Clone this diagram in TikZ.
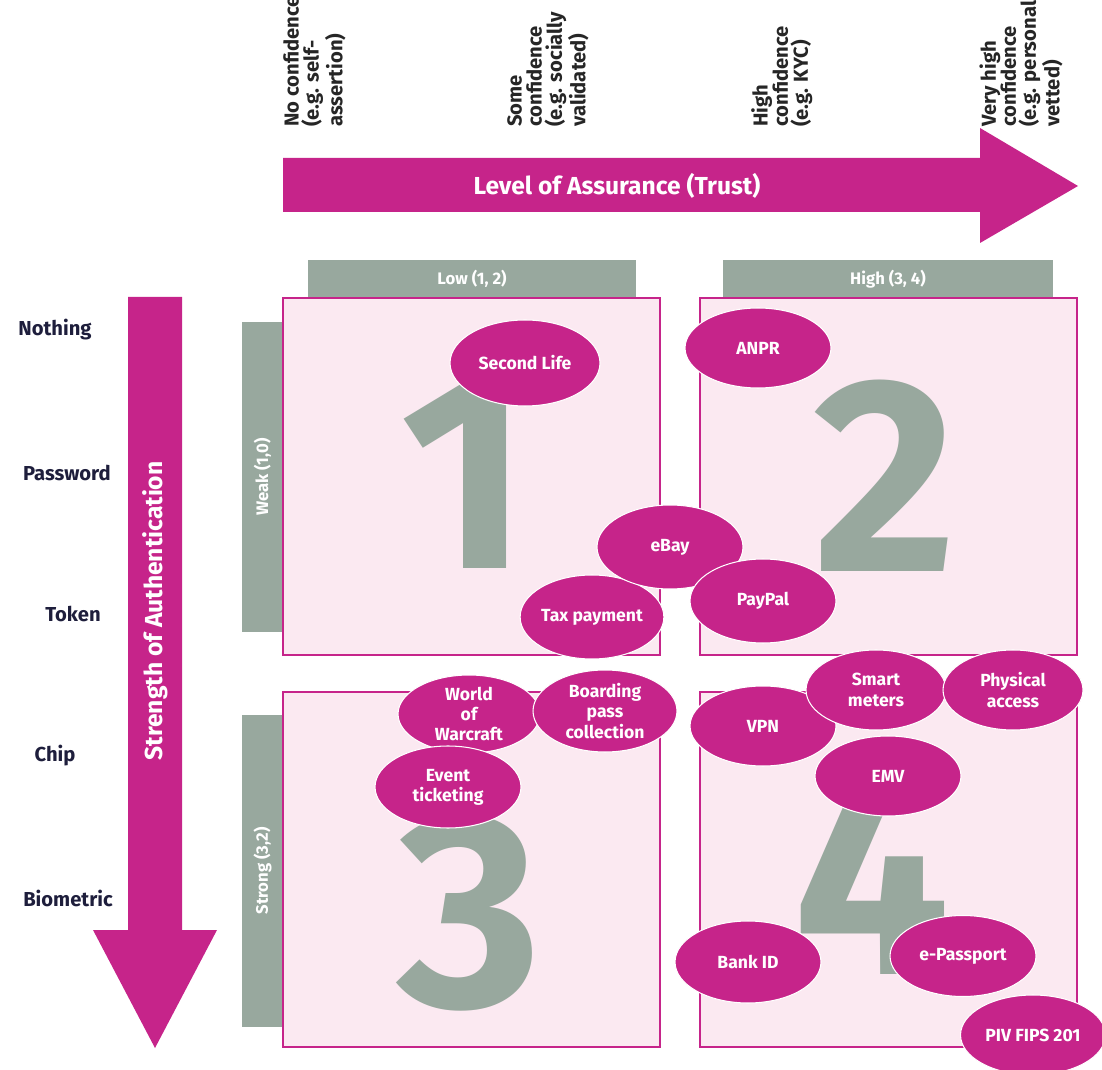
\documentclass[tikz,border=0pt]{standalone}
\usepackage{fontspec}
\setmainfont{Fira Sans}
\usepackage{tikz}
\usetikzlibrary{shapes.geometric}
\definecolor{idmagenta}{RGB}{198,36,138}
\definecolor{idgrey}{RGB}{152,168,158}
\definecolor{idpink}{RGB}{251,233,241}
\definecolor{idnavy}{RGB}{30,30,60}
\tikzstyle{usenode}=[shape=ellipse, fill=idmagenta, draw=white, line width=0.6pt, text=white, font=\bfseries\fontsize{10}{11.5}\selectfont, align=center, minimum width=2.92cm, minimum height=1.64cm, inner sep=0pt]
\tikzstyle{quadbox}=[draw=idmagenta, line width=0.8pt, fill=idpink, inner sep=0pt]
\tikzstyle{greybar}=[fill=idgrey, text=white, font=\bfseries\fontsize{9.5}{11}\selectfont, inner sep=0pt]
\tikzstyle{bigdigit}=[text=idgrey, font=\fontsize{158}{158}\selectfont\bfseries, inner sep=0pt]
\tikzstyle{levelnode}=[text=idnavy, font=\bfseries\fontsize{11.5}{13}\selectfont]
\tikzstyle{confnode}=[rotate=90, anchor=north west, align=left, font=\bfseries\fontsize{11.5}{11.4}\selectfont, text=black!85, inner sep=0pt]

\begin{document}
\begin{tikzpicture}[x=0.02cm, y=-0.02cm]
\useasboundingbox (0,0) rectangle (1102,1070);
\clip (0,0) rectangle (1102,1070);

\node [confnode] (noconf) at (283,127) {No confidence\\(e.g. self-\\assertion)};
\node [confnode] (someconf) at (507,127) {Some\\confidence\\(e.g. socially\\validated)};
\node [confnode] (highconf) at (751,127) {High\\confidence\\(e.g. KYC)};
\node [confnode] (veryconf) at (979,127) {Very high\\confidence\\(e.g. personally\\vetted)};

\fill [idmagenta] (283,158) -- (980,158) -- (980,128) -- (1078,186) -- (980,243) -- (980,212) -- (283,212) -- cycle;
\node [text=white, font=\bfseries\fontsize{14}{16}\selectfont] (trust) at (617,186) {Level of Assurance (Trust)};

\fill [idmagenta] (128,297) -- (182,297) -- (182,930) -- (217,930) -- (155,1048) -- (93,930) -- (128,930) -- cycle;
\node [rotate=90, text=white, font=\bfseries\fontsize{14}{16}\selectfont] (strength) at (155,611) {Strength of Authentication};

\node [levelnode] (nothing) at (55,330) {Nothing};
\node [levelnode] (password) at (67,473) {Password};
\node [levelnode] (token) at (73,614) {Token};
\node [levelnode] (chip) at (55,756) {Chip};
\node [levelnode] (biometric) at (68,898) {Biometric};

\node [greybar, minimum width=6.56cm, minimum height=0.76cm] (lowbar) at (472,279) {Low (1, 2)};
\node [greybar, minimum width=6.6cm, minimum height=0.76cm] (highbar) at (888,279) {High (3, 4)};
\node [greybar, rotate=90, minimum width=6.2cm, minimum height=0.82cm] (weakbar) at (262.5,477) {Weak (1,0)};
\node [greybar, rotate=90, minimum width=6.24cm, minimum height=0.82cm] (strongbar) at (262.5,871) {Strong (3,2)};

\node [quadbox, minimum width=7.54cm, minimum height=7.14cm] (qone) at (471.5,476.5) {};
\node [quadbox, minimum width=7.54cm, minimum height=7.14cm] (qtwo) at (888.5,476.5) {};
\node [quadbox, minimum width=7.54cm, minimum height=7.1cm] (qthree) at (471.5,869.5) {};
\node [quadbox, minimum width=7.54cm, minimum height=7.1cm] (qfour) at (888.5,869.5) {};

\node [bigdigit] (one) at (465,475) {1};
\node [bigdigit] (two) at (885,476) {2};
\node [bigdigit] (three) at (470,913) {3};
\node [bigdigit] (four) at (872,878) {4};

\node [usenode, minimum width=3cm, minimum height=1.72cm] (secondlife) at (525,363) {Second Life};
\node [usenode, minimum height=1.6cm] (anpr) at (758,348) {ANPR};
\node [usenode, minimum width=2.76cm, minimum height=1.68cm] (tax) at (592,617) {Tax payment};
\node [usenode, minimum height=1.68cm] (ebay) at (670,547) {eBay};
\node [usenode, minimum height=1.68cm] (paypal) at (763,601) {PayPal};
\node [usenode, minimum width=2.84cm, minimum height=1.56cm] (warcraft) at (469,714) {World\\of\\Warcraft};
\node [usenode, minimum width=2.88cm] (boarding) at (605,711) {Boarding\\pass\\collection};
\node [usenode] (ticketing) at (448,787) {Event\\ticketing};
\node [usenode, minimum height=1.6cm] (vpn) at (763,726) {VPN};
\node [usenode, minimum width=2.8cm, minimum height=1.6cm] (smart) at (876,690) {Smart\\meters};
\node [usenode, minimum width=2.8cm, minimum height=1.6cm] (physical) at (1013,690) {Physical\\access};
\node [usenode, minimum height=1.6cm] (emv) at (888,776) {EMV};
\node [usenode] (bankid) at (748,962) {Bank ID};
\node [usenode, minimum height=1.62cm] (passport) at (963,956) {e-Passport};
\node [usenode, minimum width=2.9cm, minimum height=1.6cm] (piv) at (1033,1035) {PIV FIPS 201};
\end{tikzpicture}
\end{document}
